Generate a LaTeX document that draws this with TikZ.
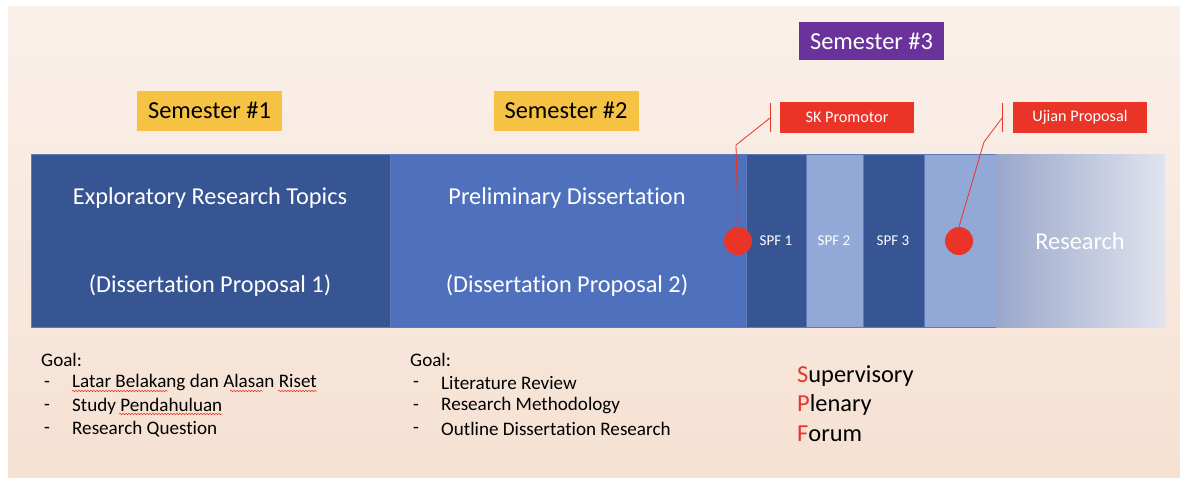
\documentclass[tikz,border=0pt]{standalone}
\usepackage{fontspec}
\setmainfont{Carlito}[Ligatures={NoCommon,NoRare}]
\usetikzlibrary{decorations.pathmorphing}
\definecolor{bgtop}{HTML}{FAF0EA}
\definecolor{bgbot}{HTML}{F5E1D2}
\definecolor{dblue}{HTML}{385593}
\definecolor{mblue}{HTML}{4F71BD}
\definecolor{lblue}{HTML}{92A8D7}
\definecolor{rleft}{HTML}{9AA7CB}
\definecolor{rright}{HTML}{E1E4EE}
\definecolor{gold}{HTML}{F5C243}
\definecolor{purp}{HTML}{6A339C}
\definecolor{redc}{HTML}{E93427}
\definecolor{edgeb}{HTML}{5F7CB8}
\tikzset{
  blk/.style={draw=edgeb, line width=0.8pt, inner sep=0pt, anchor=north west},
  bigtxt/.style={text=white, font=\fontsize{24.3}{28}\selectfont},
  spftxt/.style={text=white, font=\fontsize{15}{17}\selectfont},
  semlbl/.style={fill=gold, minimum width=145pt, minimum height=40pt, inner sep=0pt, font=\fontsize{24.4}{28}\selectfont},
  redlbl/.style={fill=redc, text=white, minimum width=134pt, minimum height=31pt, inner sep=0pt, font=\fontsize{16.2}{18}\selectfont},
  dot/.style={circle, fill=redc, minimum size=28pt, inner sep=0pt},
  redline/.style={draw=redc, line width=0.8pt},
  goal/.style={anchor=west, inner sep=0pt, font=\fontsize{19.1}{22}\selectfont},
  spfl/.style={anchor=west, inner sep=0pt, font=\fontsize{24.4}{28}\selectfont},
  squig/.style={draw=redc, line width=0.5pt, decorate, decoration={snake, amplitude=0.8pt, segment length=3pt}}
}
\begin{document}
\begin{tikzpicture}[x=1pt,y=-1pt]
\useasboundingbox (0,0) rectangle (1180,477);
\fill[white] (0,0) rectangle (1180,477);
\shade[top color=bgtop, bottom color=bgbot] (8,6) rectangle (1180,477);

% main bar
\node[blk, fill=dblue, minimum width=359pt, minimum height=173pt] (b1) at (31,154) {};
\node[blk, fill=mblue, minimum width=356pt, minimum height=173pt] (b2) at (390,154) {};
\node[blk, fill=dblue, minimum width=60pt, minimum height=173pt] (s1) at (746,154) {};
\node[blk, fill=lblue, minimum width=57pt, minimum height=173pt] (s2) at (806,154) {};
\node[blk, fill=dblue, minimum width=61pt, minimum height=173pt] (s3) at (863,154) {};
\node[blk, fill=lblue, minimum width=72pt, minimum height=173pt] (s4) at (924,154) {};
\shade[left color=rleft, right color=rright] (996,154) rectangle (1165,327);
\node[inner sep=0pt, minimum width=169pt, minimum height=173pt, anchor=north west] (rs) at (996,154) {};

\node[bigtxt] (t1a) at (210,198) {Exploratory Research Topics};
\node[bigtxt] (t1b) at (210,286) {(Dissertation Proposal 1)};
\node[bigtxt] (t2a) at (567,198) {Preliminary Dissertation};
\node[bigtxt] (t2b) at (567,286) {(Dissertation Proposal 2)};
\node[spftxt] (l1) at (776,241) {SPF 1};
\node[spftxt] (l2) at (834,241) {SPF 2};
\node[spftxt] (l3) at (893,241) {SPF 3};
\node[bigtxt] (lr) at (1080,241) {Research};

% semester labels
\node[semlbl] (sem1) at (209.5,110.5) {Semester \#1};
\node[semlbl] (sem2) at (566,110.5) {Semester \#2};
\node[semlbl, fill=purp, text=white, minimum height=38pt] (sem3) at (871.5,41) {Semester \#3};

% red callouts
\node[redlbl] (skp) at (847,117) {SK Promotor};
\node[redlbl] (ujp) at (1080,117) {Ujian Proposal};
\draw[squig] (1032,125) -- (1068,125);

\node[dot] (d1) at (738,241) {};
\node[dot] (d2) at (959,241) {};
\coordinate (k1) at (736,145);
\coordinate (t1) at (770,118);
\coordinate (t1u) at (770,103);
\coordinate (t1d) at (770,132);
\coordinate (k2) at (984,142);
\coordinate (t2) at (1002,118);
\coordinate (t2u) at (1002,103);
\coordinate (t2d) at (1002,132);
\draw[redline] (d1.north) -- (k1) -- (t1);
\draw[redline] (t1u) -- (t1d);
\draw[redline] (d2.north) -- (k2) -- (t2);
\draw[redline] (t2u) -- (t2d);

% goals column 1
\node[goal] (g1) at (41,360) {Goal:};
\node[goal] (g1d1) at (44,384) {-};
\node[goal] (g1i1) at (72,383) {Latar Belakang dan Alasan Riset};
\node[goal] (g1d2) at (44,407) {-};
\node[goal] (g1i2) at (72,406) {Study Pendahuluan};
\node[goal] (g1d3) at (44,430) {-};
\node[goal] (g1i3) at (72,429) {Research Question};
\draw[squig] (72,391) -- (168,391);
\draw[squig] (230,391) -- (263,391);
\draw[squig] (278,391) -- (317,391);
\draw[squig] (119,414) -- (222,414);

% goals column 2
\node[goal] (g2) at (410,360) {Goal:};
\node[goal] (g2d1) at (413,384) {-};
\node[goal] (g2i1) at (441,383) {Literature Review};
\node[goal] (g2d2) at (413,407) {-};
\node[goal] (g2i2) at (441,406) {Research Methodology};
\node[goal] (g2d3) at (413,430) {-};
\node[goal] (g2i3) at (441,429) {Outline Dissertation Research};

% SPF legend
\node[spfl] (f1) at (797,376) {\textcolor{redc}{S}upervisory};
\node[spfl] (f2) at (797,405) {\textcolor{redc}{P}lenary};
\node[spfl] (f3) at (797,434) {\textcolor{redc}{F}orum};
\end{tikzpicture}
\end{document}
